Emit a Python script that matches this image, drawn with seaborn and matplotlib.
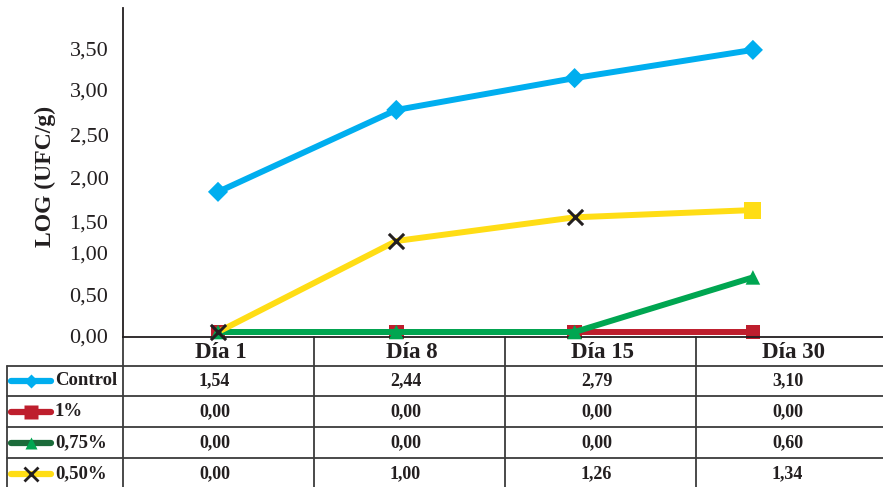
import matplotlib
matplotlib.use("Agg")
import matplotlib.pyplot as plt
import seaborn as sns
import pandas as pd

# Sampling days and the series measured on each
days = ["Día 1", "Día 8", "Día 15", "Día 30"]
control = [1.54, 2.44, 2.79, 3.10]
pct_1 = [0.00, 0.00, 0.00, 0.00]
pct_075 = [0.00, 0.00, 0.00, 0.60]
pct_050 = [0.00, 1.00, 1.26, 1.34]
series_names = ["Control", "1%", "0,75%", "0,50%"]

# Y-axis tick labels and where they sit on the value scale
ytick_labels = ["0,00", "0,50", "1,00", "1,50", "2,00", "2,50", "3,00", "3,50"]
ytick_pos = [-0.044, 0.407, 0.868, 1.21, 1.70, 2.165, 2.66, 3.12]

sns.set_style("white")
plt.rcParams["font.family"] = ["Liberation Serif", "DejaVu Serif"]

W, H = 883, 487
fig = plt.figure(figsize=(W / 100, H / 100), dpi=100)

# Overlay axes in pixel units for the data table
ov = fig.add_axes([0, 0, 1, 1])
ov.set_xlim(0, W)
ov.set_ylim(H, 0)
ov.axis("off")

ax = fig.add_axes([123 / W, (H - 337) / H, (W - 123) / W, (337 - 8) / H])
ax.set_facecolor("none")

blue = "#00AEEF"
red = "#BE1E2D"
green = "#00A651"
dgreen = "#1B6B3A"
yellow = "#FFDD15"
black = "#231F20"

series = [control, pct_1, pct_075, pct_050]
line_colors = [blue, red, green, yellow]
xs = list(range(len(days)))

for vals, col in zip(series, line_colors):
    df = pd.DataFrame({"x": xs, "y": vals})
    sns.lineplot(data=df, x="x", y="y", color=col, lw=4.3, ax=ax,
                 solid_capstyle="butt", clip_on=False)
    if col == blue:
        sns.scatterplot(data=df, x="x", y="y", marker="D", s=105, color=blue,
                        edgecolor="none", ax=ax, zorder=5, clip_on=False)
    elif col == red:
        sns.scatterplot(data=df, x="x", y="y", marker="s", s=110, color=red,
                        edgecolor="none", ax=ax, zorder=2, clip_on=False)
    elif col == green:
        sns.scatterplot(data=df, x="x", y="y", marker="^", s=110, color=green,
                        edgecolor="none", ax=ax, zorder=5, clip_on=False)
    else:
        head = df.iloc[:-1]
        tail = df.iloc[-1:]
        sns.scatterplot(data=head, x="x", y="y", marker="x", s=120, color=black,
                        linewidth=2.2, ax=ax, zorder=6, clip_on=False)
        sns.scatterplot(data=tail, x="x", y="y", marker="s", s=150, color=yellow,
                        edgecolor="none", ax=ax, zorder=6, clip_on=False)

# Pixel layout: day points at 218 + 178.3*i, zero at y=332, 91 px per unit
ax.set_xlim((123 - 218) / 178.3, (883 - 218) / 178.3)
ax.set_ylim(-5 / 91, (332 - 8) / 91)
ax.set_xticks([])
ax.set_xlabel("")
ax.set_ylabel("")
ax.set_yticks(ytick_pos)
ax.set_yticklabels(ytick_labels, fontsize=16, color="#231F20")
ax.tick_params(axis="y", length=0, pad=10.5)
for side in ["top", "right"]:
    ax.spines[side].set_visible(False)
for side in ["left", "bottom"]:
    ax.spines[side].set_color("#231F20")
    ax.spines[side].set_linewidth(1.3)

fig.text(45 / W, 1 - 176 / H, "LOG (UFC/g)", rotation=90, ha="center",
         va="center", fontsize=17, fontweight="bold", color="#231F20")

# Data table beneath the plot
grid = "#3C3C3C"
col_edges = [123, 314, 505, 696, 887]
row_edges = [337, 365.7, 395.7, 427.3, 458.3, 489]
for y in row_edges[1:-1]:
    ov.plot([7, W], [y, y], color=grid, lw=1.3)
ov.plot([7, 7], [row_edges[1], H], color=grid, lw=1.3)
for x in col_edges[:-1]:
    ov.plot([x, x], [337, H], color=grid, lw=1.3)

centers = [(col_edges[i] + col_edges[i + 1]) / 2 for i in range(4)]
hdr_y = (row_edges[0] + row_edges[1]) / 2
for cx, d in zip(centers, days):
    ov.text(cx + 2, hdr_y + 1, d, ha="center", va="center", fontsize=16.5,
            fontweight="bold", color=black)

key_line = [blue, red, dgreen, yellow]
key_marker = [("D", blue, 7), ("s", red, 10), ("^", green, 8), ("x", black, 10)]
for r, (name, vals) in enumerate(zip(series_names, series)):
    cy = (row_edges[r + 1] + row_edges[r + 2]) / 2
    ov.plot([11, 51], [cy, cy], color=key_line[r], lw=4.5,
            solid_capstyle="round")
    m, mc, ms = key_marker[r]
    if m == "x":
        ov.plot([31], [cy], marker=m, color=mc, ms=ms, mew=2)
    else:
        ov.plot([31], [cy], marker=m, color=mc, ms=ms, mec="none")
    ov.text(55, cy, name, ha="left", va="center", fontsize=13.5,
            fontweight="bold", color=black)
    for cx, v in zip(centers, vals):
        ov.text(cx - 4, cy, f"{v:.2f}".replace(".", ","), ha="center",
                va="center", fontsize=13, fontweight="bold", color=black)

fig.savefig("out.png", dpi=100)
